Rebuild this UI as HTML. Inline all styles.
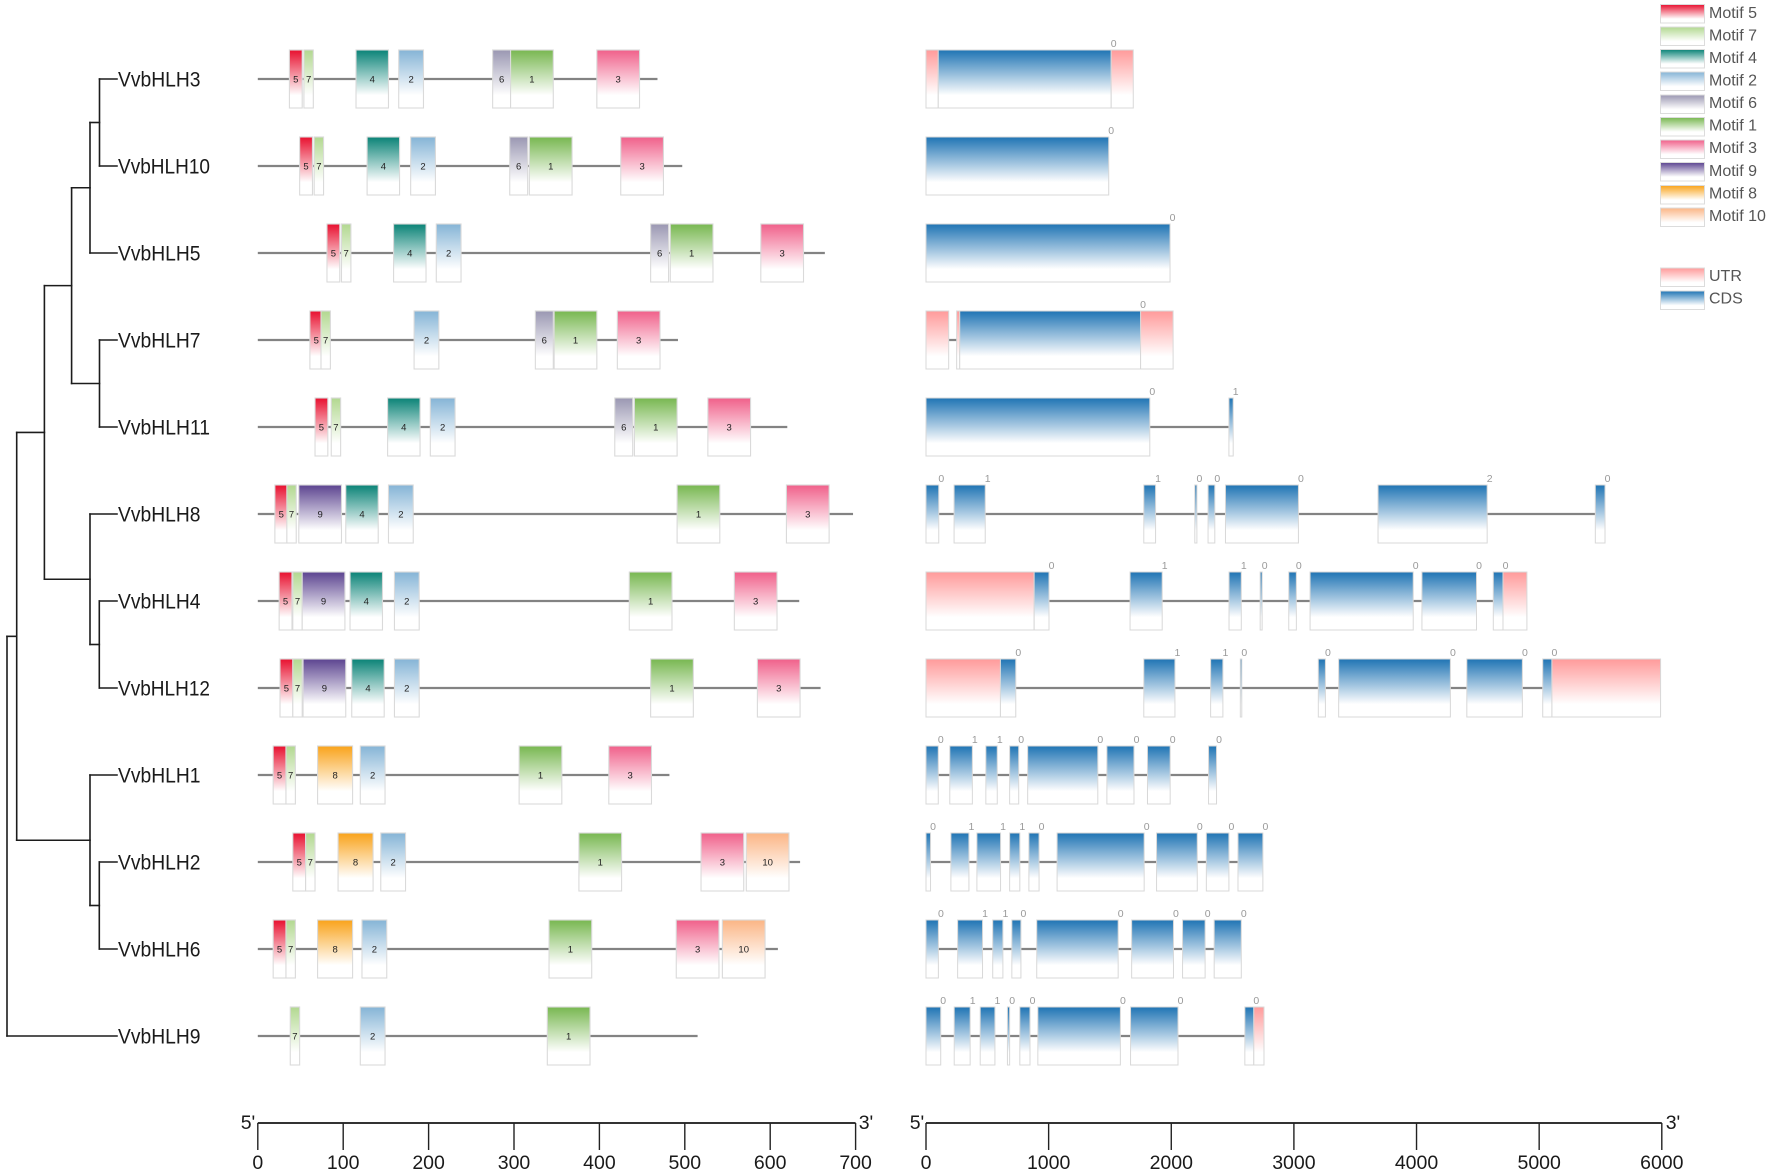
<!DOCTYPE html>
<html lang="en">
<head>
<meta charset="utf-8">
<title>VvbHLH gene family motifs and gene structure</title>
<style>
html,body{margin:0;padding:0;background:#fff;width:1772px;height:1175px;overflow:hidden}
svg{display:block;font-family:"Liberation Sans",sans-serif;filter:blur(.35px)}
</style>
</head>
<body>
<svg id="chart" width="1772" height="1175" viewBox="0 0 1772 1175" xmlns="http://www.w3.org/2000/svg">
<defs>
<linearGradient id="g5" x1="0" y1="0" x2="0" y2="1"><stop offset="0" stop-color="#e8102f"/><stop offset=".78" stop-color="#fff"/></linearGradient>
<linearGradient id="g7" x1="0" y1="0" x2="0" y2="1"><stop offset="0" stop-color="#b2d890"/><stop offset=".78" stop-color="#fff"/></linearGradient>
<linearGradient id="g4" x1="0" y1="0" x2="0" y2="1"><stop offset="0" stop-color="#0a8377"/><stop offset=".78" stop-color="#fff"/></linearGradient>
<linearGradient id="g2" x1="0" y1="0" x2="0" y2="1"><stop offset="0" stop-color="#85b4d6"/><stop offset=".78" stop-color="#fff"/></linearGradient>
<linearGradient id="g6" x1="0" y1="0" x2="0" y2="1"><stop offset="0" stop-color="#9a97b2"/><stop offset=".78" stop-color="#fff"/></linearGradient>
<linearGradient id="g1" x1="0" y1="0" x2="0" y2="1"><stop offset="0" stop-color="#78b750"/><stop offset=".78" stop-color="#fff"/></linearGradient>
<linearGradient id="g3" x1="0" y1="0" x2="0" y2="1"><stop offset="0" stop-color="#f0608a"/><stop offset=".78" stop-color="#fff"/></linearGradient>
<linearGradient id="g9" x1="0" y1="0" x2="0" y2="1"><stop offset="0" stop-color="#5c4490"/><stop offset=".78" stop-color="#fff"/></linearGradient>
<linearGradient id="g8" x1="0" y1="0" x2="0" y2="1"><stop offset="0" stop-color="#f9a31a"/><stop offset=".78" stop-color="#fff"/></linearGradient>
<linearGradient id="g10" x1="0" y1="0" x2="0" y2="1"><stop offset="0" stop-color="#fbb585"/><stop offset=".78" stop-color="#fff"/></linearGradient>
<linearGradient id="gU" x1="0" y1="0" x2="0" y2="1"><stop offset="0" stop-color="#ff9a9a"/><stop offset=".78" stop-color="#fff"/></linearGradient>
<linearGradient id="gC" x1="0" y1="0" x2="0" y2="1"><stop offset="0" stop-color="#1f74b4"/><stop offset=".78" stop-color="#fff"/></linearGradient>
</defs>
<g id="tree"></g>
<g id="names"></g>
<g id="motifs"></g>
<g id="genes"></g>
<g id="axes"></g>
<g id="legend" font-size="16" fill="#555" transform="translate(0,-1)">
<g><rect x="1660.5" y="5.5" width="44" height="18.5" fill="url(#g5)" stroke="#dcdcdc"/><text x="1709" y="19">Motif 5</text></g>
<g><rect x="1660.5" y="28" width="44" height="18.5" fill="url(#g7)" stroke="#dcdcdc"/><text x="1709" y="41.5">Motif 7</text></g>
<g><rect x="1660.5" y="50.5" width="44" height="18.5" fill="url(#g4)" stroke="#dcdcdc"/><text x="1709" y="64">Motif 4</text></g>
<g><rect x="1660.5" y="73" width="44" height="18.5" fill="url(#g2)" stroke="#dcdcdc"/><text x="1709" y="86.5">Motif 2</text></g>
<g><rect x="1660.5" y="96" width="44" height="18.5" fill="url(#g6)" stroke="#dcdcdc"/><text x="1709" y="109">Motif 6</text></g>
<g><rect x="1660.5" y="118.5" width="44" height="18.5" fill="url(#g1)" stroke="#dcdcdc"/><text x="1709" y="131.5">Motif 1</text></g>
<g><rect x="1660.5" y="141" width="44" height="18.5" fill="url(#g3)" stroke="#dcdcdc"/><text x="1709" y="154">Motif 3</text></g>
<g><rect x="1660.5" y="163.5" width="44" height="18.5" fill="url(#g9)" stroke="#dcdcdc"/><text x="1709" y="177">Motif 9</text></g>
<g><rect x="1660.5" y="186.5" width="44" height="18.5" fill="url(#g8)" stroke="#dcdcdc"/><text x="1709" y="199.5">Motif 8</text></g>
<g><rect x="1660.5" y="209" width="44" height="18.5" fill="url(#g10)" stroke="#dcdcdc"/><text x="1709" y="222">Motif 10</text></g>
<g><rect x="1660.5" y="269" width="44" height="18.5" fill="url(#gU)" stroke="#dcdcdc"/><text x="1709" y="282">UTR</text></g>
<g><rect x="1660.5" y="292" width="44" height="18.5" fill="url(#gC)" stroke="#dcdcdc"/><text x="1709" y="304.5">CDS</text></g>
</g>
</svg>
<script>
const geneNames = ["VvbHLH3","VvbHLH10","VvbHLH5","VvbHLH7","VvbHLH11","VvbHLH8","VvbHLH4","VvbHLH12","VvbHLH1","VvbHLH2","VvbHLH6","VvbHLH9"];
const proteinLengths = [468,497,664,492,620,697,634,659,482,635,609,515];
const motifLengths = {1:50,2:29,3:50,4:38,5:15,6:21,7:11,8:41,9:50,10:50};
const motifIds = [
 [5,7,4,2,6,1,3],[5,7,4,2,6,1,3],[5,7,4,2,6,1,3],[5,7,2,6,1,3],[5,7,4,2,6,1,3],
 [5,7,9,4,2,1,3],[5,7,9,4,2,1,3],[5,7,9,4,2,1,3],
 [5,7,8,2,1,3],[5,7,8,2,1,3,10],[5,7,8,2,1,3,10],[7,2,1]
];
const motifStarts = [
 [37,54,115,165,275,296,397],[49,66,128,179,295,318,425],[81,98,159,209,460,483,589],
 [61,74,183,325,347,421],[67,86,152,202,418,441,527],
 [20,34,48,103,153,491,619],[25,41,52,108,160,435,558],[26,41,53,110,160,460,585],
 [18,33,70,120,306,411],[41,56,94,144,376,519,572],[18,33,70,122,341,490,544],[38,120,339]
];
const geneLengths = [1690,1490,1990,2015,2505,5537,4900,5990,2369,2747,2571,2756];
const segmentKinds = [
 "UCU","C","C","UUCU","CC","CCCCCCCC","UCCCCCCCCU","UCCCCCCCCU","CCCCCCCC","CCCCCCCCC","CCCCCCCC","CCCCCCCCU"
];
const segmentStarts = [
 [0,100,1510],[0],[0],[0,250,275,1750],[0,2470],
 [0,229,1776,2192,2300,2442,3686,5458],
 [0,882,1664,2471,2725,2958,3132,4044,4626,4705],
 [0,607,1776,2321,2563,3199,3365,4410,5029,5104],
 [0,194,488,682,829,1475,1806,2304],
 [0,203,415,682,839,1069,1880,2286,2544],
 [0,258,544,700,903,1677,2092,2350],
 [0,230,442,664,765,912,1668,2600,2673]
];
const segmentEnds = [
 [100,1510,1690],[1490],[1990],[185,275,1750,2015],[1825,2505],
 [104,483,1872,2209,2355,3037,4576,5537],
 [882,1003,1926,2571,2741,3020,3973,4489,4705,4900],
 [607,732,2030,2421,2575,3257,4276,4863,5104,5990],
 [100,378,581,756,1401,1696,1991,2369],
 [37,350,608,765,922,1779,2212,2470,2747],
 [101,461,627,774,1567,2018,2276,2571],
 [120,360,562,682,848,1585,2055,2673,2756]
];
const phaseLabels = [
 [0],[0],[0],[0],[0,1],[0,1,1,0,0,0,2,0],[0,1,1,0,0,0,0,0],[0,1,1,0,0,0,0,0],
 [0,1,1,0,0,0,0,0],[0,1,1,1,0,0,0,0,0],[0,1,1,0,0,0,0,0],[0,1,1,0,0,0,0,0]
];
const motifTicks = [0,100,200,300,400,500,600,700];
const geneTicks = [0,1000,2000,3000,4000,5000,6000];
/* tree: [branchLength, child, child]; a number child is a row index */
const treeShape = [0,
 [9.7,
  [27.7,
   [27.2,[18.4,[9.5,0,1],2],[27.9,3,4]],
   [45.6,5,[9.3,6,7]]
  ],
  [73.3,8,[9.3,9,10]]
 ],
 11
];

const NS = "http://www.w3.org/2000/svg";
function mk(parent, tag, attrs, text){
  const el = document.createElementNS(NS, tag);
  for (const k in attrs) el.setAttribute(k, attrs[k]);
  if (text !== undefined) el.textContent = text;
  parent.appendChild(el);
  return el;
}
const rowY = i => 79 + 87 * i;
const motifX = v => 257.8 + v * (855.6 - 257.8) / 700;
const geneX = v => 926 + v * (1661.8 - 926) / 6000;
const BOX_H = 29;

/* tree */
const treeG = document.getElementById("tree");
const LEAF_X = 117, ROOT_X = 7;
function treeLine(x1, y1, x2, y2, label){
  const l = mk(treeG, "line", {x1:x1, y1:y1, x2:x2, y2:y2, stroke:"#1c1c1c", "stroke-width":1.6, "stroke-linecap":"square"});
  
  
}
function drawNode(node, x){
  if (typeof node === "number") return rowY(node);
  const nx = x + node[0];
  const ys = [];
  for (let c = 1; c < node.length; c++){
    const child = node[c];
    if (typeof child === "number"){
      const y = rowY(child);
      treeLine(nx, y, LEAF_X, y, "tree-leaf-branch");
      ys.push(y);
    } else {
      const cx = nx + child[0];
      const y = drawNode(child, nx);
      treeLine(nx, y, cx, y, "tree-branch");
      ys.push(y);
    }
  }
  treeLine(nx, ys[0], nx, ys[ys.length - 1], "tree-clade-join");
  return (ys[0] + ys[ys.length - 1]) / 2;
}
drawNode(treeShape, ROOT_X);

/* gene names */
const namesG = document.getElementById("names");
geneNames.forEach((n, i) => {
  const t = mk(namesG, "text", {x:118, y:rowY(i) + 7.5, "font-size":21, fill:"#1a1a1a", textLength:n.length > 7 ? 92 : 82.5, lengthAdjust:"spacingAndGlyphs"}, n);
  
  
});

/* motif panel */
const motifsG = document.getElementById("motifs");
geneNames.forEach((n, i) => {
  const y = rowY(i);
  const line = mk(motifsG, "line", {x1:motifX(0), y1:y, x2:motifX(proteinLengths[i]), y2:y, stroke:"#838383", "stroke-width":2.2});
  
  
  motifIds[i].forEach((id, j) => {
    const x0 = motifX(motifStarts[i][j]);
    const x1 = motifX(motifStarts[i][j] + motifLengths[id]);
    const r = mk(motifsG, "rect", {x:x0, y:y - BOX_H, width:x1 - x0, height:BOX_H * 2, fill:"url(#g" + id + ")", stroke:"#dadada", "stroke-width":1.1});
    
    
    const t = mk(motifsG, "text", {x:(x0 + x1) / 2, y:y + 3.5, "font-size":9.5, "text-anchor":"middle", fill:"#222"}, String(id));
    
    
  });
});

/* gene structure panel */
const genesG = document.getElementById("genes");
geneNames.forEach((n, i) => {
  const y = rowY(i);
  const line = mk(genesG, "line", {x1:geneX(0), y1:y, x2:geneX(geneLengths[i]), y2:y, stroke:"#838383", "stroke-width":2.2});
  
  
  let cds = 0;
  segmentStarts[i].forEach((s, j) => {
    const kind = segmentKinds[i][j];
    const x0 = geneX(s), x1 = geneX(segmentEnds[i][j]);
    const r = mk(genesG, "rect", {x:x0, y:y - BOX_H, width:Math.max(x1 - x0, 1), height:BOX_H * 2, fill:"url(#g" + kind + ")", stroke:"#d8d8d8", "stroke-width":1});
    
    
    if (kind === "C"){
      const t = mk(genesG, "text", {x:x1 + 2.5, y:y - BOX_H - 3, "font-size":10.5, "text-anchor":"middle", fill:"#9a9a9a"}, String(phaseLabels[i][cds]));
      
      
      cds++;
    }
  });
});

/* axes */
const axesG = document.getElementById("axes");
function drawAxis(ticks, xf, prefix, leftX, rightX){
  const AY = 1123;
  const a = mk(axesG, "line", {x1:xf(ticks[0]), y1:AY, x2:xf(ticks[ticks.length - 1]), y2:AY, stroke:"#333", "stroke-width":2});
  
  
  ticks.forEach(v => {
    const tk = mk(axesG, "line", {x1:xf(v), y1:AY, x2:xf(v), y2:1150, stroke:"#222", "stroke-width":1.4});
    
    
    const lb = mk(axesG, "text", {x:xf(v), y:1169, "font-size":19.5, "text-anchor":"middle", fill:"#1a1a1a"}, String(v));
    
    
  });
  const l5 = mk(axesG, "text", {x:leftX, y:1129, "font-size":19.5, "text-anchor":"middle", fill:"#1a1a1a"}, "5'");
  
  
  const l3 = mk(axesG, "text", {x:rightX, y:1129, "font-size":19.5, "text-anchor":"middle", fill:"#1a1a1a"}, "3'");
  
  
}
drawAxis(motifTicks, motifX, "motif", 248, 866);
drawAxis(geneTicks, geneX, "gene", 917, 1673);
</script>
</body>
</html>
